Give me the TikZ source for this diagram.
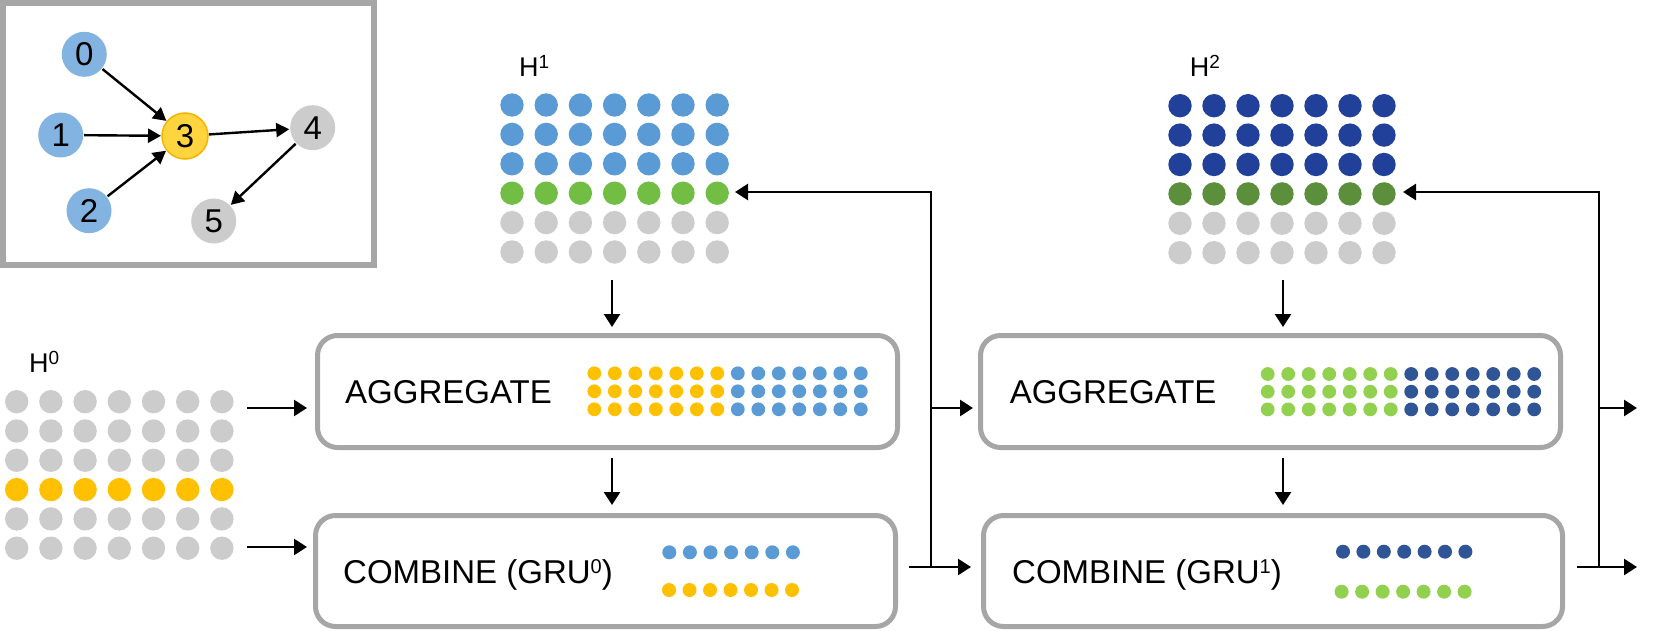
\documentclass[tikz,border=0pt]{standalone}
\usepackage{fontspec}
\setmainfont{Liberation Sans}
\usetikzlibrary{arrows.meta}
\definecolor{boxgrey}{HTML}{A6A6A6}
\definecolor{dgrey}{HTML}{CCCCCC}
\definecolor{yel}{HTML}{FFC000}
\definecolor{bluA}{HTML}{5B9BD5}
\definecolor{grnA}{HTML}{72BE44}
\definecolor{bluB}{HTML}{21409A}
\definecolor{grnB}{HTML}{5B8F3B}
\definecolor{grnC}{HTML}{92D050}
\definecolor{bluC}{HTML}{2F5597}
\definecolor{gblue}{HTML}{83B3E0}
\definecolor{gyel}{HTML}{FFD43F}
\definecolor{gorange}{HTML}{F5B400}
\newcommand\mysup[1]{\raisebox{10pt}{\fontsize{20}{20}\selectfont #1}}
\newcommand\hsup[1]{\raisebox{8pt}{\fontsize{19}{19}\selectfont #1}}
\begin{document}
\begin{tikzpicture}[x=1pt,y=-1pt,
  arr/.style={draw=black, line width=2.6pt, -{Triangle[length=13pt,width=16pt]}},
  garr/.style={draw=black, line width=2.4pt, -{Triangle[length=13pt,width=14pt]}},
  box/.style={draw=boxgrey, line width=5pt, rounded corners=20pt, minimum width=580pt, minimum height=112pt, inner sep=0pt, outer sep=0pt},
  gnode/.style={circle, minimum size=45pt, inner sep=0pt, outer sep=1pt, font=\fontsize{33}{33}\selectfont},
  lbl/.style={anchor=base west, inner sep=0pt, font=\fontsize{33}{38}\selectfont},
  hlbl/.style={anchor=base west, inner sep=0pt, font=\fontsize{27}{30}\selectfont}
]
\useasboundingbox (0,0) rectangle (1654,631);

% ---- small graph ----
\draw[boxgrey, line width=6pt] (3,3) rectangle (374,265);
\node[gnode, fill=gblue] (n0) at (84.3,54.3) {0};
\node[gnode, fill=gblue] (n1) at (60.7,135) {1};
\node[gnode, fill=gblue] (n2) at (89,210.7) {2};
\node[gnode, fill=gyel, draw=gorange, line width=1.5pt, minimum size=46pt] (n3) at (185,136) {3};
\node[gnode, fill=dgrey] (n4) at (312.7,127.7) {4};
\node[gnode, fill=dgrey] (n5) at (213.7,221) {5};
\draw[garr] (n0) -- (n3);
\draw[garr] (n1) -- (n3);
\draw[garr] (n2) -- (n3);
\draw[garr] (n3) -- (n4);
\draw[garr] (n4) -- (n5);

% ---- H0 ----
\node[hlbl] (lh0) at (29,372) {H\hsup{0}};
\foreach \j/\c in {0/dgrey,1/dgrey,2/dgrey,3/yel,4/dgrey,5/dgrey}
  \foreach \i in {0,...,6}
    \fill[\c] ({16.7+34.2*\i},{401.7+29.3*\j}) circle[radius=11.7];

% ---- H1 ----
\node[hlbl] (lh1) at (519,77) {H\hsup{1}};
\foreach \j/\c in {0/bluA,1/bluA,2/bluA,3/grnA,4/dgrey,5/dgrey}
  \foreach \i in {0,...,6}
    \fill[\c] ({512+34.2*\i},{105+29.4*\j}) circle[radius=11.7];

% ---- H2 ----
\node[hlbl] (lh2) at (1189.7,77) {H\hsup{2}};
\foreach \j/\c in {0/bluB,1/bluB,2/bluB,3/grnB,4/dgrey,5/dgrey}
  \foreach \i in {0,...,6}
    \fill[\c] ({1180+34*\i},{105.7+29.4*\j}) circle[radius=11.7];

% ---- boxes ----
\node[box] (agg0) at (607.5,391.5) {};
\node[box, minimum height=111pt] (comb0) at (605.5,571) {};
\node[box] (agg1) at (1270.5,391.5) {};
\node[box, minimum height=111pt, minimum width=579pt] (comb1) at (1273,571) {};

\node[lbl] (ta0) at (345,403) {AGGREGATE};
\node[lbl] (tc0) at (343,583) {COMBINE (GRU\mysup{0})};
\node[lbl] (ta1) at (1009.6,403) {AGGREGATE};
\node[lbl] (tc1) at (1012,583) {COMBINE (GRU\mysup{1})};

% dots in boxes
\foreach \j in {0,1,2} {
  \foreach \i in {0,...,6} {
    \fill[yel] ({594.3+20.5*\i},{373.3+18*\j}) circle[radius=6.9];
    \fill[bluA] ({594.3+20.5*(\i+7)},{373.3+18*\j}) circle[radius=6.9];
    \fill[grnC] ({1267.7+20.5*\i},{374+17.7*\j}) circle[radius=6.9];
    \fill[bluC] ({1267.7+20.5*(\i+7)},{374+17.7*\j}) circle[radius=6.9];
  }
}
\foreach \i in {0,...,6} {
  \fill[bluA] ({669.3+20.6*\i},552.3) circle[radius=7];
  \fill[yel] ({669+20.5*\i},590) circle[radius=7];
  \fill[bluC] ({1343+20.4*\i},551.7) circle[radius=7];
  \fill[grnC] ({1341.6+20.5*\i},591.7) circle[radius=7];
}

% ---- connectors ----
\coordinate (h0a) at (247,408);
\coordinate (h0b) at (247,547);
\draw[arr, shorten >=10.5pt] (h0a) -- (h0a -| agg0.west);
\draw[arr, shorten >=8.5pt] (h0b) -- (h0b -| comb0.west);

\coordinate (h1d) at (612,280);
\draw[arr, shorten >=8.5pt] (h1d) -- (h1d |- agg0.north);
\draw[arr, shorten <=10.5pt, shorten >=10.5pt] (agg0.south -| h1d) -- (comb0.north -| h1d);

\coordinate (h2d) at (1283,280);
\draw[arr, shorten >=8.5pt] (h2d) -- (h2d |- agg1.north);
\draw[arr, shorten <=10.5pt, shorten >=10.5pt] (agg1.south -| h2d) -- (comb1.north -| h2d);

\coordinate (j0) at (931,567);
\coordinate (j0a) at (931,408);
\coordinate (j0t) at (931,192);
\coordinate (h1g) at (735,192);
\draw[arr, shorten <=13.5pt, shorten >=12.5pt] (comb0.east |- j0) -- (comb1.west |- j0);
\draw[arr] (j0) -- (j0t) -- (h1g);
\draw[arr, shorten >=7.5pt] (j0a) -- (j0a -| agg1.west);

\coordinate (j1) at (1599,567);
\coordinate (j1a) at (1599,408);
\coordinate (j1t) at (1599,192);
\coordinate (h2g) at (1403,192);
\coordinate (o1) at (1637,567);
\coordinate (o2) at (1637,408);
\draw[arr, shorten <=14.5pt] (comb1.east |- j1) -- (o1);
\draw[arr] (j1) -- (j1t) -- (h2g);
\draw[arr] (j1a) -- (o2);
\end{tikzpicture}
\end{document}
